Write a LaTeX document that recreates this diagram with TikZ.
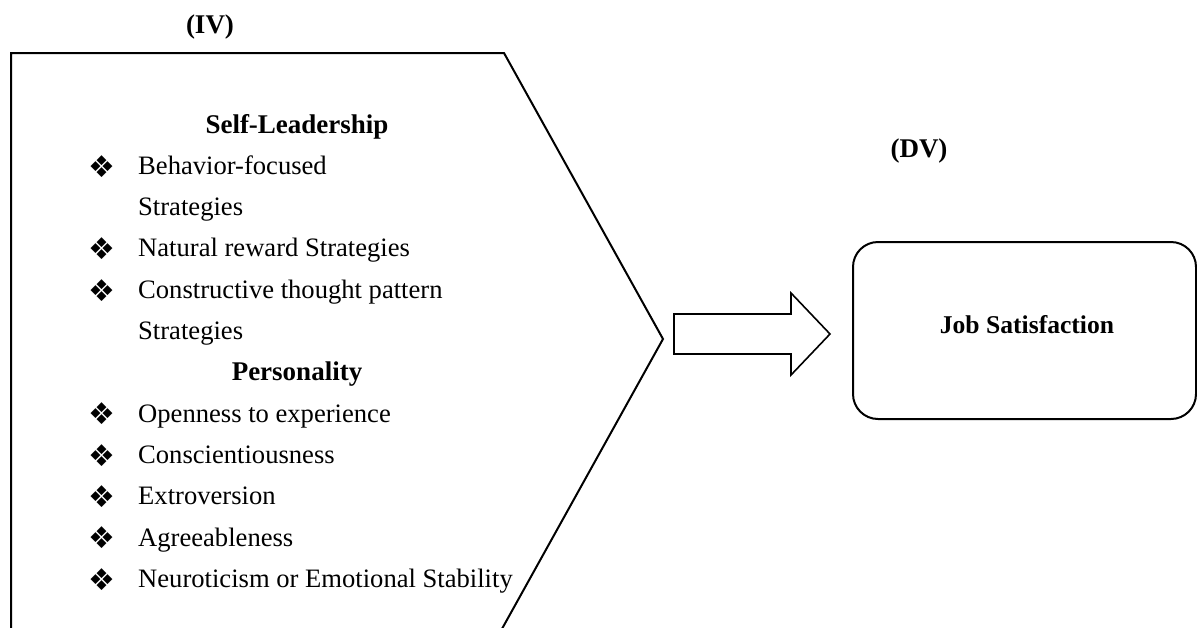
\documentclass[tikz,border=0pt]{standalone}
\usepackage{fontspec}
\setmainfont{Liberation Serif}
\newfontfamily\symfont{DejaVu Sans}
\begin{document}
\begin{tikzpicture}[x=1pt,y=-1pt,
  body/.style={anchor=base west, inner sep=0pt, font=\fontsize{26.6}{32}\selectfont},
  head/.style={anchor=base, inner sep=0pt, font=\fontsize{27}{32}\selectfont\bfseries},
  bul/.style={anchor=center, inner sep=0pt, font=\symfont\fontsize{30}{32}\selectfont},
  frame/.style={line width=2pt, line join=miter},
  blockarrow/.style={line width=1.6pt, line join=miter},
  dvbox/.style={draw, line width=2pt, rounded corners=25pt, inner sep=0pt},
]
\useasboundingbox (0,0) rectangle (1197,627);
% IV shape
\draw[frame] (11,645) -- (11,53) -- (504,53) -- (663,339) -- (493,645);
\node[head] (iv) at (210,33) {(IV)};
% lines
\node[head] (sl) at (297,133) {Self-Leadership};
\node[bul] (b1) at (102,166.3) {❖};
\node[body] (t1) at (138,174.3) {Behavior-focused};
\node[body] (t2) at (138,215.6) {Strategies};
\node[bul] (b3) at (102,248.9) {❖};
\node[body] (t3) at (138,256.9) {Natural reward Strategies};
\node[bul] (b4) at (102,290.2) {❖};
\node[body] (t4) at (138,298.2) {Constructive thought pattern};
\node[body] (t5) at (138,339.5) {Strategies};
\node[head] (pe) at (297,380.8) {Personality};
\node[bul] (b7) at (102,414.1) {❖};
\node[body] (t7) at (138,422.1) {Openness to experience};
\node[bul] (b8) at (102,455.4) {❖};
\node[body] (t8) at (138,463.4) {Conscientiousness};
\node[bul] (b9) at (102,496.7) {❖};
\node[body] (t9) at (138,504.7) {Extroversion};
\node[bul] (b10) at (102,538) {❖};
\node[body] (t10) at (138,546) {Agreeableness};
\node[bul] (b11) at (102,579.3) {❖};
\node[body] (t11) at (138,587.3) {Neuroticism or Emotional Stability};
% block arrow
\draw[blockarrow] (674,314) -- (791,314) -- (791,293) -- (830,334) -- (791,375) -- (791,354) -- (674,354) -- cycle;
% DV
\node[head] (dv) at (919,157) {(DV)};
\node[dvbox, minimum width=343pt, minimum height=177pt] (box) at (1024.5,330.5) {};
\node[anchor=base, inner sep=0pt, font=\fontsize{25.6}{30}\selectfont\bfseries] (job) at (1027,333) {Job Satisfaction};
\end{tikzpicture}
\end{document}
